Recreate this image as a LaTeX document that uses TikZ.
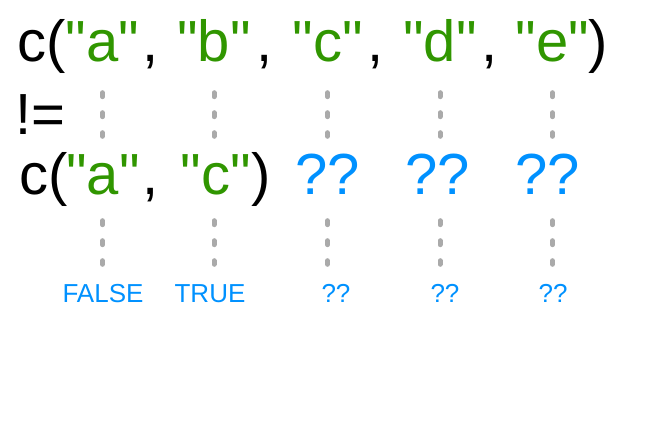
\documentclass[tikz,border=0pt]{standalone}
\usepackage{fontspec}
\setmainfont{Liberation Sans}[Ligatures=TeXOff]
\definecolor{strgreen}{RGB}{48,150,0}
\definecolor{unkblue}{RGB}{0,145,255}
\definecolor{dotgray}{RGB}{170,170,170}
\begin{document}
\begin{tikzpicture}[x=1pt,y=-1pt,
    big/.style={font=\fontsize{58}{60}\selectfont, inner sep=0pt, anchor=base},
    str/.style={big, text=strgreen, text height=44pt, text depth=12pt},
    unk/.style={big, text=unkblue, text height=44pt, text depth=12pt},
    res/.style={font=\fontsize{26}{28}\selectfont, text=unkblue, inner sep=0pt, anchor=base, text height=20pt},
    dots/.style={draw=dotgray, line width=5pt, line cap=round, dash pattern=on 4pt off 16pt}]
    \useasboundingbox (0,0) rectangle (670,435);

    % First vector
    \node[big, anchor=base west] (lhs) at (17.7,62) {c(};
    \node[str] (x1) at (102.5,62) {"a"};
    \node[big] (k1) at (151,62) {,};
    \node[str] (x2) at (214,62) {"b"};
    \node[big] (k2) at (265,62) {,};
    \node[str] (x3) at (327.5,62) {"c"};
    \node[big] (k3) at (376,62) {,};
    \node[str] (x4) at (440,62) {"d"};
    \node[big] (k4) at (490,62) {,};
    \node[str] (x5) at (552.5,62) {"e"};
    \node[big] (rp1) at (598.5,62) {)};

    % Operator
    \node[big, anchor=base west] (neq) at (15,135) {!=};

    % Second vector
    \node[big, anchor=base west] (rhs) at (19.7,195) {c(};
    \node[str] (y1) at (103,195) {"a"};
    \node[big] (m1) at (151,195) {,};
    \node[str] (y2) at (216,195) {"c"};
    \node[big] (rp2) at (261,195) {)};
    \node[unk] (y3) at (328,195) {??};
    \node[unk] (y4) at (438,195) {??};
    \node[unk] (y5) at (548,195) {??};

    % Results
    \node[res] (r1) at (103,303) {FALSE};
    \node[res] (r2) at (210,303) {TRUE};
    \node[res] (r3) at (336,303) {??};
    \node[res] (r4) at (445,303) {??};
    \node[res] (r5) at (553,303) {??};

    % Dotted guides
    \foreach \i in {1,...,5} {
        \draw[dots, shorten <=18.5pt, shorten >=14.5pt] (x\i.south) -- (x\i.south |- y\i.north);
        \draw[dots, shorten <=13.5pt, shorten >=18.5pt] (x\i.south |- y\i.south) -- (x\i.south |- r\i.north);
    }
\end{tikzpicture}
\end{document}
